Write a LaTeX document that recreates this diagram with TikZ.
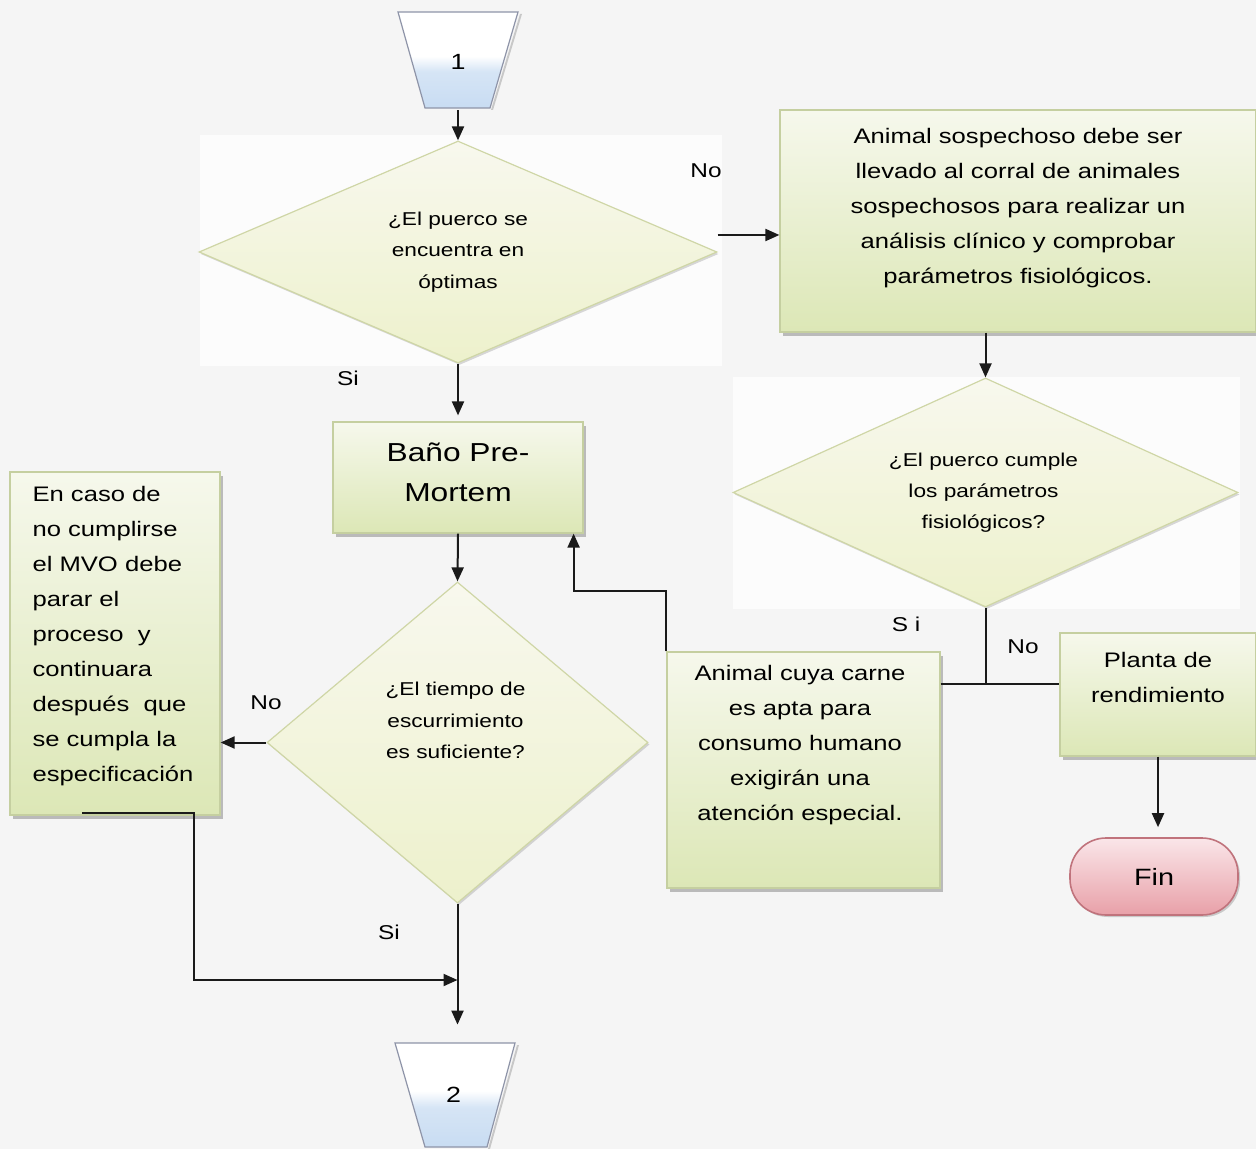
\documentclass[tikz,border=0pt]{standalone}
\usepackage{fontspec}
\setmainfont{Liberation Sans}[FakeStretch=1.22]
\usetikzlibrary{shapes.geometric,shadows,arrows.meta,calc}
\definecolor{bg}{HTML}{F5F5F5}
\definecolor{patch}{HTML}{FCFCFC}
\definecolor{boxtop}{HTML}{F6F8EC}
\definecolor{boxbot}{HTML}{DCE7B6}
\definecolor{boxline}{HTML}{C5CFA0}
\definecolor{dectop}{HTML}{F8F8EE}
\definecolor{decbot}{HTML}{EDF1CC}
\definecolor{decline}{HTML}{CFD6A6}
\definecolor{trline}{HTML}{8E94A8}
\definecolor{trbot}{HTML}{C8DCF2}
\definecolor{fintop}{HTML}{FAE6E9}
\definecolor{finbot}{HTML}{E8A0A8}
\definecolor{finline}{HTML}{C0737C}
\definecolor{ln}{HTML}{1A1A1A}
\pgfdeclareverticalshading{trsh}{100bp}{color(0bp)=(trbot); color(25bp)=(trbot); color(44bp)=(trbot!75!white); color(52bp)=(white); color(100bp)=(white)}
\newcommand{\btext}{\fontsize{10.5}{17.5}\selectfont}
\newcommand{\dtext}{\fontsize{9.3}{15.6}\selectfont}
\newcommand{\btitle}{\fontsize{13}{20}\selectfont}
\newcommand{\ltext}{\fontsize{10}{12}\selectfont}
\begin{document}
\begin{tikzpicture}[x=0.5pt,y=-0.5pt,
  box/.style={draw=boxline, line width=0.6pt, top color=boxtop, bottom color=boxbot,
    inner sep=0pt, drop shadow={shadow xshift=1.5pt, shadow yshift=-2pt, fill=black!70, opacity=0.35}},
  dec/.style={diamond, draw=decline, line width=0.6pt, top color=dectop, bottom color=decbot,
    inner sep=0pt, drop shadow={shadow xshift=0.8pt, shadow yshift=-1pt, fill=black!60, opacity=0.25}},
  trapshape/.style={draw=trline, line width=0.6pt, shading=trsh},
  trapnode/.style={inner sep=0pt, minimum width=32.5pt, minimum height=48pt, font=\fontsize{11}{13}\selectfont},
  finbox/.style={rectangle, rounded corners=18pt, draw=finline, line width=0.8pt,
    top color=fintop, bottom color=finbot, minimum width=84pt, minimum height=38.5pt,
    font=\fontsize{11.8}{14}\selectfont,
    drop shadow={shadow xshift=1pt, shadow yshift=-1pt, fill=black!60, opacity=0.3}},
  blab/.style={font=\btext, align=center, inner sep=0pt},
  dlab/.style={font=\dtext, align=center, inner sep=0pt},
  lab/.style={font=\ltext, inner sep=0pt},
  arr/.style={draw=ln, line width=1pt, -{Triangle[length=7pt,width=6pt]}},
  conn/.style={draw=ln, line width=1pt}
]
\fill[bg] (0,0) rectangle (1256,1149);
\useasboundingbox (0,0) rectangle (1256,1149);
\fill[patch] (200,135) rectangle (722,366);
\fill[patch] (733,377) rectangle (1240,609);

% connector 1 (off-page connector shape)
\fill[black, opacity=0.18] (520,14) -- (522,14) -- (493,110) -- (491,110) -- cycle;
\shade[trapshape] (398,12) -- (518,12) -- (490,108) -- (425,108) -- cycle;
\node[trapnode] (c1) at (458,62) {1};
% decision 1
\node[dec, minimum width=259pt, minimum height=111pt,
  label={[dlab]center:{¿El puerco se\\encuentra en\\óptimas}}] (d1) at (458,252) {};
% box A
\node[box, minimum width=238pt, minimum height=111pt,
  label={[blab, yshift=6.5pt]center:{Animal sospechoso debe ser\\llevado al corral de animales\\sospechosos para realizar un\\análisis clínico y comprobar\\parámetros fisiológicos.}}] (A) at (1018,221) {};
% decision 2
\node[dec, minimum width=252.5pt, minimum height=114.5pt,
  label={[dlab, xshift=-1pt]center:{¿El puerco cumple\\los parámetros\\fisiológicos?}}] (d2) at (985.5,492.5) {};
% bano
\node[box, minimum width=125pt, minimum height=55.5pt,
  label={[font=\btitle, align=center, inner sep=0pt, yshift=2.5pt]center:{Baño Pre-\\Mortem}}] (bano) at (458,477.5) {};
% decision 3
\node[dec, minimum width=190.5pt, minimum height=160.5pt,
  label={[dlab, yshift=11pt, xshift=-1pt]center:{¿El tiempo de\\escurrimiento\\es suficiente?}}] (d3) at (457.5,742.5) {};
% box D
\node[box, minimum width=105pt, minimum height=171.5pt,
  label={[blab, align=left, yshift=3.5pt, xshift=-1pt]center:{En caso de\\no cumplirse\\el MVO debe\\parar el\\proceso\ \ y\\continuara\\después\ \ que\\se cumpla la\\especificación}}] (D) at (115,643.5) {};
% box B
\node[box, minimum width=136.5pt, minimum height=118pt,
  label={[blab, yshift=12.5pt, xshift=-1.75pt]center:{Animal cuya carne\\es apta para\\consumo humano\\exigirán una\\atención especial.}}] (B) at (803.5,770) {};
% box C
\node[box, minimum width=98pt, minimum height=61.5pt,
  label={[blab, yshift=8.75pt]center:{Planta de\\rendimiento}}] (C) at (1158,694.5) {};
% fin
\node[finbox] (fin) at (1154,876.5) {Fin};
% connector 2
\fill[black, opacity=0.18] (517,1045) -- (519,1045) -- (490,1149) -- (488,1149) -- cycle;
\shade[trapshape] (395,1043) -- (515,1043) -- (487,1147) -- (425,1147) -- cycle;
\node[trapnode, minimum height=52pt] (c2) at (457.5,1095) {\hspace*{-4pt}\raisebox{-2pt}{2}};

% labels
\node[lab] (noA) at (706,171) {No};
\node[lab] (si1) at (348,378) {Si};
\node[lab] (noD) at (266,703) {No};
\node[lab] (si3) at (389,932) {Si};
\node[lab] (si2) at (906,624) {S i};
\node[lab] (no2) at (1023,647) {No};

% connectors
\draw[arr] (c1.south) -- (d1.north);
\draw[arr] ($(d1.east)+(0,-17)$) -- (A.west |- {$(d1.east)+(0,-17)$});
\draw[arr, shorten >=3pt] (d1.south) -- (bano.north);
\draw[arr] (A.south -| d2.north) -- (d2.north);
\draw[arr] (bano.south) -- (d3.north);
\draw[arr] (d3.west) -- (D.east |- d3.west);
\coordinate (m) at (d3.south |- 0,980);
\coordinate (dstart) at ($(D.south west)+(73,-3)$);
\draw[arr] (dstart) -- ++(112,0) |- (m);
\draw[arr, shorten >=9pt] (d3.south) -- (c2.north);
\draw[arr] (B.north west) -- ++(0,-60) -| ([xshift=-5pt]bano.south east);
\coordinate (j) at (d2.south |- 0,684);
\draw[conn] (d2.south) -- (j);
\draw[conn] (B.east |- j) -- (C.west |- j);
\draw[arr, shorten >=5pt] (C.south) -- (C.south |- fin.north);
\end{tikzpicture}
\end{document}
